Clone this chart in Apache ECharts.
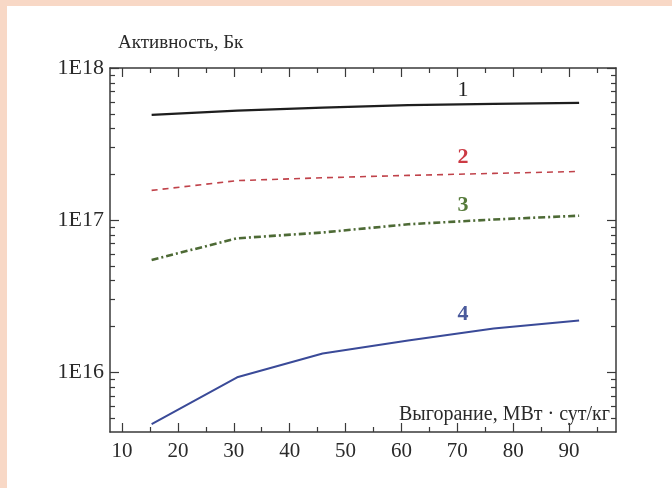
<!DOCTYPE html>
<html>
<head>
<meta charset="utf-8">
<script src="https://cdn.jsdelivr.net/npm/echarts@6/dist/echarts.min.js"></script>
<style>
  html, body { margin: 0; padding: 0; background: #f8d8c6; }
  #chart { width: 672px; height: 488px; }
</style>
</head>
<body>
<div id="chart"></div>
<script>
// Burnup, MW·day/kg
const burnup = [15.3, 30.6, 45.9, 61.2, 76.5, 91.8];

// Activity, Bq
const curve1 = [4.93e17, 5.25e17, 5.5e17, 5.7e17, 5.82e17, 5.9e17];
const curve2 = [1.57e17, 1.82e17, 1.9e17, 1.97e17, 2.03e17, 2.09e17];
const curve3 = [5.48e16, 7.6e16, 8.3e16, 9.4e16, 1.01e17, 1.07e17];
const curve4 = [4.57e15, 9.27e15, 1.33e16, 1.62e16, 1.94e16, 2.19e16];

const curveNames = ['1', '2', '3', '4'];
// label anchor for each curve number: [burnup, activity]
const curveLabelAt = [[71, 7.1e17], [71, 2.6e17], [71, 1.26e17], [71, 2.4e16]];

// axis ticks
const xMajor = [10, 20, 30, 40, 50, 60, 70, 80, 90];
const xMinor = [15, 25, 35, 45, 55, 65, 75, 85, 95];
const yMajor = [1e16, 1e17, 1e18];
const yLabels = ['1E16', '1E17', '1E18'];
const yMinor = [5e15, 6e15, 7e15, 8e15, 9e15,
  2e16, 3e16, 4e16, 5e16, 6e16, 7e16, 8e16, 9e16,
  2e17, 3e17, 4e17, 5e17, 6e17, 7e17, 8e17, 9e17];

const X_MIN = 7.85, X_MAX = 98.4;
const Y_MIN = 4.05e15, Y_MAX = 1.001e18;

const axisColor = '#3a3a3a';
const serif = '"Liberation Serif", "DejaVu Serif", serif';

const colors = ['#1e1e1e', '#c0424a', '#4d6a35', '#3a4a98'];
const labelColors = ['#222222', '#cc3a44', '#557a3a', '#4a5a9c'];

function xAxisDef(pos, ticks, len, withLine, withLabels) {
  return {
    type: 'value', position: pos, min: X_MIN, max: X_MAX,
    axisLine: { show: withLine, onZero: false, lineStyle: { color: axisColor, width: 1.5 } },
    axisTick: { show: true, inside: true, length: len, customValues: ticks,
      lineStyle: { color: axisColor, width: 1.2 } },
    axisLabel: withLabels ? { show: true, customValues: xMajor, color: '#2a2a2a',
      fontFamily: serif, fontSize: 21, margin: 9 } : { show: false },
    splitLine: { show: false }
  };
}

function yAxisDef(pos, ticks, len, withLine, withLabels) {
  return {
    type: 'log', logBase: 10, position: pos, min: Y_MIN, max: Y_MAX,
    axisLine: { show: withLine, onZero: false, lineStyle: { color: axisColor, width: 1.5 } },
    axisTick: { show: true, inside: true, length: len, customValues: ticks,
      lineStyle: { color: axisColor, width: 1.2 } },
    axisLabel: withLabels ? { show: true, customValues: yMajor, color: '#2a2a2a',
      showMaxLabel: true, showMinLabel: true, hideOverlap: false,
      fontFamily: serif, fontSize: 22, margin: 6,
      formatter: function (v) {
        const i = yMajor.findIndex(m => Math.abs(m - v) / m < 1e-3);
        return i >= 0 ? yLabels[i] : '';
      } } : { show: false },
    splitLine: { show: false }
  };
}

const seriesData = [curve1, curve2, curve3, curve4];
const lineStyles = [
  { width: 2.2, type: 'solid' },
  { width: 1.6, type: [6, 5] },
  { width: 2.6, type: [7, 3, 2, 3] },
  { width: 2.0, type: 'solid' }
];

const series = seriesData.map((vals, i) => ({
  type: 'line',
  xAxisIndex: 0, yAxisIndex: 0,
  data: burnup.map((b, k) => [b, vals[k]]),
  showSymbol: false,
  symbol: 'none',
  lineStyle: Object.assign({ color: colors[i] }, lineStyles[i]),
  silent: true,
  markPoint: {
    symbol: 'circle', symbolSize: 0,
    data: [{ coord: curveLabelAt[i], value: curveNames[i] }],
    label: { show: true, position: 'inside', formatter: curveNames[i],
      color: labelColors[i], fontFamily: serif, fontSize: 22,
      fontWeight: i === 0 ? 'normal' : 'bold' }
  }
}));

const chart = echarts.init(document.getElementById('chart'), null, { renderer: 'canvas' });
chart.setOption({
  animation: false,
  backgroundColor: 'transparent',
  graphic: [
    { type: 'rect', z: -10, shape: { x: 7, y: 6, width: 672, height: 488 },
      style: { fill: '#ffffff' } },
    { type: 'text', left: 118, top: 34, style: { text: 'Активность, Бк',
      font: '19px "Liberation Serif", serif', fill: '#2a2a2a' } },
    { type: 'text', right: 62, top: 405, style: { text: 'Выгорание, МВт · сут/кг',
      font: '20px "Liberation Serif", serif', fill: '#2a2a2a' } }
  ],
  grid: { left: 110, right: 56, top: 68, bottom: 56 },
  xAxis: [
    xAxisDef('bottom', xMajor, 9, true, true),
    xAxisDef('bottom', xMinor, 5, false, false),
    xAxisDef('top', xMajor, 9, true, false),
    xAxisDef('top', xMinor, 5, false, false)
  ],
  yAxis: [
    yAxisDef('left', yMajor, 9, true, true),
    yAxisDef('left', yMinor, 5, false, false),
    yAxisDef('right', yMajor, 9, true, false),
    yAxisDef('right', yMinor, 5, false, false)
  ],
  series: series
});
</script>
</body>
</html>
